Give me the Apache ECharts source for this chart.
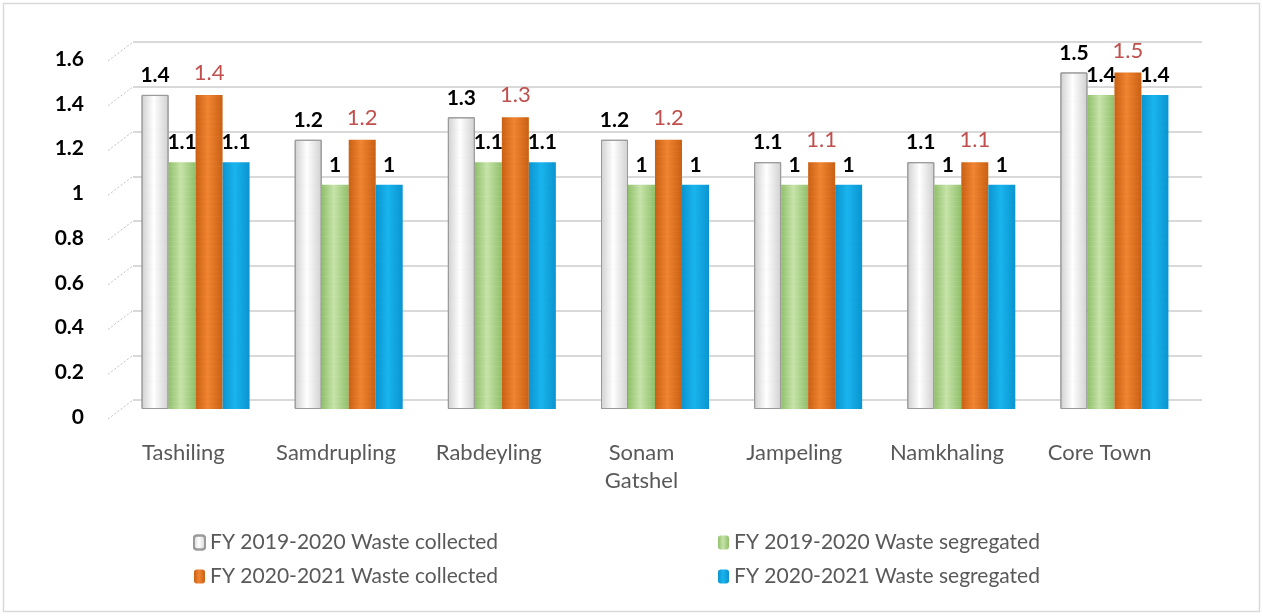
<!DOCTYPE html>
<html>
<head>
<meta charset="utf-8">
<script src="https://cdn.jsdelivr.net/npm/echarts@6/dist/echarts.min.js"></script>
<style>
  html, body { margin: 0; padding: 0; background: #fff; }
  #chart { width: 1263px; height: 616px; }
</style>
</head>
<body>
<div id="chart"></div>
<script>
// values
const categories = ["Tashiling", "Samdrupling", "Rabdeyling", "Sonam\nGatshel", "Jampeling", "Namkhaling", "Core Town"];
const collected1920 = [1.4, 1.2, 1.3, 1.2, 1.1, 1.1, 1.5];
const segregated1920 = [1.1, 1, 1.1, 1, 1, 1, 1.4];
const collected2021 = [1.4, 1.2, 1.3, 1.2, 1.1, 1.1, 1.5];
const segregated2021 = [1.1, 1, 1.1, 1, 1, 1, 1.4];
const seriesNames = [
  "FY 2019-2020 Waste collected",
  "FY 2019-2020 Waste segregated",
  "FY 2020-2021 Waste collected",
  "FY 2020-2021 Waste segregated"
];
const yMin = 0, yMax = 1.6, yStep = 0.2;

const font = "Lato, 'Open Sans', sans-serif";
const chart = echarts.init(document.getElementById("chart"));

const blackLabel = {
  show: true, position: "top", distance: 9,
  color: "#000", fontWeight: "bold", fontSize: 21, fontFamily: font
};
const redLabel = {
  show: true, position: "top", distance: 11,
  color: "#c0504d", fontSize: 22, fontFamily: font
};

const cyl = (edge, mid) => ({
  type: "linear", x: 0, y: 0, x2: 1, y2: 0,
  colorStops: [
    { offset: 0, color: edge }, { offset: 0.45, color: mid }, { offset: 1, color: edge }
  ]
});

const hiddenValue = (grid) => ({
  type: "value", gridIndex: grid, min: yMin, max: yMax, interval: yStep,
  axisLabel: { show: false }, axisLine: { show: false }, axisTick: { show: false },
  splitLine: { show: false }
});
const hiddenCat = (grid) => ({
  type: "category", gridIndex: grid, data: categories,
  axisLabel: { show: false }, axisLine: { show: false }, axisTick: { show: false }
});

const legendText = { color: "#595959", fontSize: 21, fontFamily: font };

chart.setOption({
  animation: false,
  backgroundColor: "#fff",
  textStyle: { fontFamily: font },
  aria: { enabled: true, decal: { show: true } },
  grid: [
    { left: 107, right: 87, top: 59, bottom: 199 },   // front: axis labels
    { left: 133, right: 61, top: 42, bottom: 216 },   // back wall: gridlines
    { left: 119, right: 72, top: 50, bottom: 207 }    // bars
  ],
  xAxis: [
    {
      type: "category", gridIndex: 0, data: categories,
      axisLine: { show: false }, axisTick: { show: false },
      axisLabel: {
        interval: 0, hideOverlap: false,
        color: "#595959", fontSize: 22, fontFamily: font, margin: 22, lineHeight: 28
      }
    },
    hiddenCat(1),
    hiddenCat(2)
  ],
  yAxis: [
    {
      type: "value", gridIndex: 0, min: yMin, max: yMax, interval: yStep,
      axisLine: { show: false }, axisTick: { show: false }, splitLine: { show: false },
      axisLabel: {
        color: "#000", fontWeight: "bold", fontSize: 21, fontFamily: font, margin: 23,
        formatter: (v) => String(+v.toFixed(1))
      }
    },
    Object.assign(hiddenValue(1), { splitLine: { show: true, lineStyle: { color: "#d9d9d9", width: 2 } } }),
    hiddenValue(2)
  ],
  legend: [
    {
      data: [seriesNames[0], seriesNames[2]], orient: "vertical", left: 188, top: 527,
      itemWidth: 11, itemHeight: 14, itemGap: 13, textStyle: legendText
    },
    {
      data: [seriesNames[1], seriesNames[3]], orient: "vertical", left: 713, top: 527,
      itemWidth: 11, itemHeight: 14, itemGap: 13, textStyle: legendText
    }
  ],
  series: [
    {
      name: seriesNames[0], type: "bar", xAxisIndex: 2, yAxisIndex: 2, data: collected1920,
      barWidth: 27, barGap: "0%",
      itemStyle: {
        color: cyl("#d0d0d0", "#ffffff"), borderColor: "#9a9a9a", borderWidth: 1,
        decal: { symbol: "circle", symbolSize: 0.3, color: "rgba(110,110,110,0.35)", dashArrayX: [[1, 0], [0, 1, 1]], dashArrayY: [7, 7], rotation: 0 }
      },
      label: blackLabel
    },
    {
      name: seriesNames[1], type: "bar", xAxisIndex: 2, yAxisIndex: 2, data: segregated1920,
      barWidth: 27, barGap: "0%",
      itemStyle: {
        color: cyl("#8fbf6a", "#c6e3a8"),
        decal: { symbol: "circle", symbolSize: 0.6, color: "rgba(230,245,210,0.45)", dashArrayX: [[1, 0], [0, 1, 1]], dashArrayY: [3, 2], rotation: 0 }
      },
      label: blackLabel
    },
    {
      name: seriesNames[2], type: "bar", xAxisIndex: 2, yAxisIndex: 2, data: collected2021,
      barWidth: 27, barGap: "0%",
      itemStyle: {
        color: cyl("#c95f12", "#f08431"),
        decal: { symbol: "circle", symbolSize: 0.5, color: "rgba(255,195,140,0.4)", dashArrayX: [[1, 0], [0, 1, 1]], dashArrayY: [3, 2], rotation: 0 }
      },
      label: redLabel
    },
    {
      name: seriesNames[3], type: "bar", xAxisIndex: 2, yAxisIndex: 2, data: segregated2021,
      barWidth: 27, barGap: "0%",
      itemStyle: {
        color: cyl("#0a94d0", "#19b4ee"),
        decal: { symbol: "circle", symbolSize: 0.4, color: "rgba(120,215,250,0.3)", dashArrayX: [[1, 0], [0, 1, 1]], dashArrayY: [4, 3], rotation: 0 }
      },
      label: blackLabel
    }
  ]
});

// slanted tick lines joining the front labels to the back wall, plus the outer frame
const ticks = [];
for (let v = yMin; v <= yMax + 1e-9; v += yStep) ticks.push(v);
const graphics = ticks.map((v) => {
  const front = chart.convertToPixel({ gridIndex: 0 }, [0, v]);
  const back = chart.convertToPixel({ gridIndex: 1 }, [0, v]);
  return {
    type: "line", silent: true,
    shape: { x1: 108, y1: front[1] + 2, x2: 133, y2: back[1] },
    style: { stroke: "#bfbfbf", lineWidth: 1, lineDash: [2, 2] }
  };
});
graphics.push({
  type: "rect", silent: true,
  shape: { x: 3.5, y: 3.5, width: 1256, height: 608 },
  style: { fill: null, stroke: "#d9d9d9", lineWidth: 1.5 }
});
chart.setOption({ graphic: graphics });
</script>
</body>
</html>
